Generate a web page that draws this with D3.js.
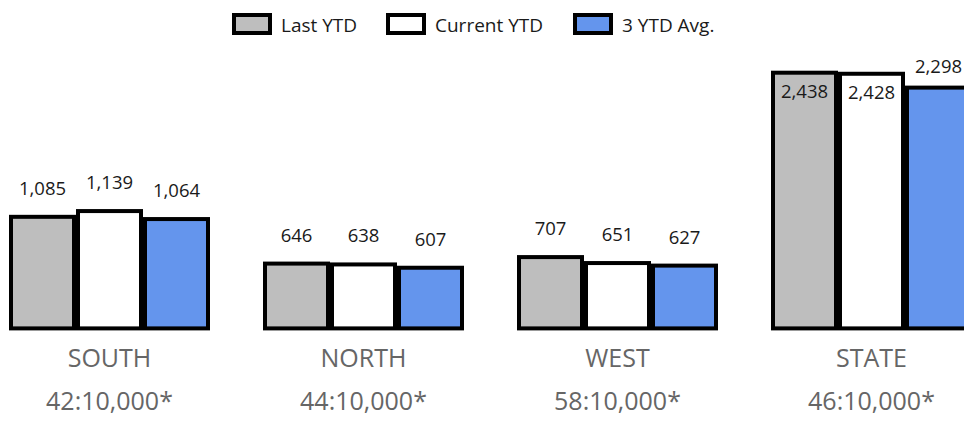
<!DOCTYPE html>
<html>
<head>
<meta charset="utf-8">
<script src="https://cdn.jsdelivr.net/npm/d3@7"></script>
<style>
  html, body { margin: 0; padding: 0; background: #fff; }
  svg { display: block; font-family: "Segoe UI", "Open Sans", sans-serif; }
</style>
</head>
<body>
<svg id="chart" width="964" height="422"></svg>
<script>
const categories = ["SOUTH", "NORTH", "WEST", "STATE"];
const ratioLabels = ["42:10,000*", "44:10,000*", "58:10,000*", "46:10,000*"];
const seriesNames = ["Last YTD", "Current YTD", "3 YTD Avg."];
const lastYTD = [1085, 646, 707, 2438];
const currentYTD = [1139, 638, 651, 2428];
const avg3YTD = [1064, 607, 627, 2298];
const seriesColors = ["#BEBEBE", "#FFFFFF", "#6495ED"];

const seriesValues = [lastYTD, currentYTD, avg3YTD];
const W = 964, H = 422;
const svg = d3.select("#chart");

const x0 = d3.scaleBand().domain(categories).range([9, 972]).paddingInner(53 / 254).paddingOuter(0);
const x1 = d3.scaleBand().domain(seriesNames).range([0, x0.bandwidth()]).padding(0);
const y = d3.scaleLinear().domain([0, 2438]).range([330.4, 70.7]);
const color = d3.scaleOrdinal().domain(seriesNames).range(seriesColors);
const fmt = d3.format(",");
const SW = 4;

const data = categories.map((c, i) => ({
  cat: c,
  vals: seriesNames.map((s, j) => ({ s, v: seriesValues[j][i] }))
}));

const g = svg.append("g");
const groups = g.selectAll("g.grp").data(data).enter().append("g")
  .attr("class", "grp")
  .attr("transform", d => `translate(${x0(d.cat)},0)`);

groups.selectAll("rect").data(d => d.vals).enter().append("rect")
  .attr("x", d => x1(d.s) + SW / 2)
  .attr("y", d => y(d.v) + SW / 2)
  .attr("width", x1.bandwidth() - SW)
  .attr("height", d => y(0) - y(d.v) - SW)
  .attr("fill", d => color(d.s))
  .attr("stroke", "#000")
  .attr("stroke-width", SW);

groups.selectAll("text.val").data(d => d.vals).enter().append("text")
  .attr("class", "val")
  .attr("x", d => x1(d.s) + x1.bandwidth() / 2)
  .attr("y", d => {
    const above = y(d.v) - 20;
    if (above < 60) return y(d.v) + 27;
    return Math.max(above, 73);
  })
  .attr("text-anchor", "middle")
  .attr("font-size", 18.5)
  .attr("fill", "#1a1a1a")
  .text(d => fmt(d.v));

// category labels
g.selectAll("text.cat").data(categories).enter().append("text")
  .attr("class", "cat")
  .attr("x", d => x0(d) + x0.bandwidth() / 2)
  .attr("y", 367)
  .attr("text-anchor", "middle")
  .attr("font-size", 25)
  .attr("fill", "#666666")
  .text(d => d);

g.selectAll("text.ratio").data(categories).enter().append("text")
  .attr("class", "ratio")
  .attr("x", d => x0(d) + x0.bandwidth() / 2)
  .attr("y", 410)
  .attr("text-anchor", "middle")
  .attr("font-size", 25)
  .attr("fill", "#666666")
  .text((d, i) => ratioLabels[i]);

// legend
const legendX = [232, 386, 573];
const legend = svg.append("g").selectAll("g").data(seriesNames).enter().append("g")
  .attr("transform", (d, i) => `translate(${legendX[i]},13)`);
legend.append("rect")
  .attr("x", SW / 2).attr("y", SW / 2)
  .attr("width", 40 - SW).attr("height", 22 - SW)
  .attr("fill", d => color(d))
  .attr("stroke", "#000").attr("stroke-width", SW);
legend.append("text")
  .attr("x", 49).attr("y", 18.5)
  .attr("font-size", 19)
  .attr("fill", "#1a1a1a")
  .text(d => d);
</script>
</body>
</html>
